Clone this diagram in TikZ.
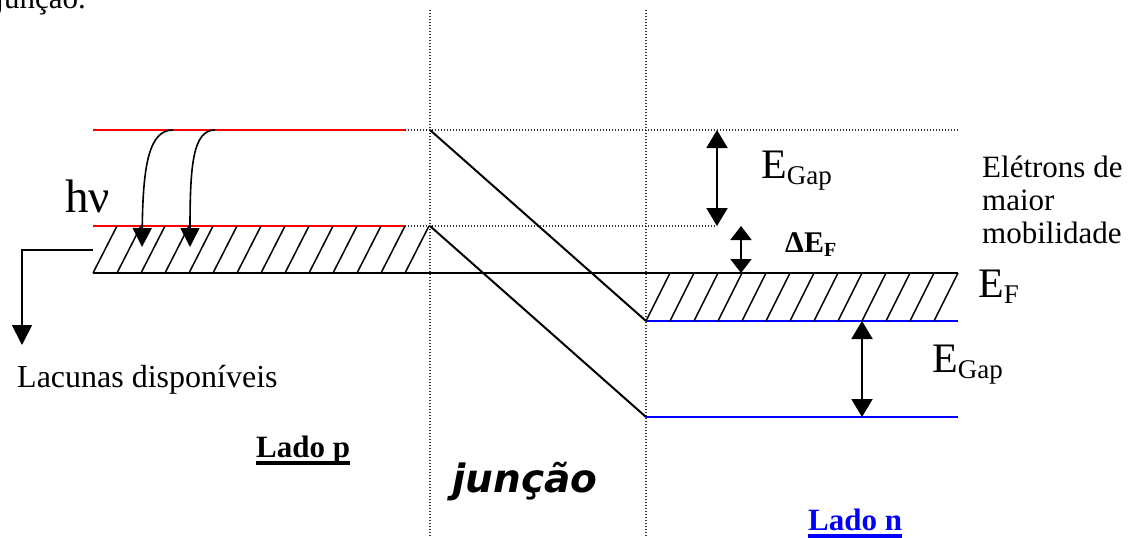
\documentclass[tikz,border=0pt]{standalone}
\usepackage{fontspec}
\setmainfont{Liberation Serif}
\newfontfamily\junfont{DejaVu Sans}
\usetikzlibrary{arrows.meta}

% E with a subscript, as in the band labels
\newcommand{\bigE}[1]{{\fontsize{42}{42}\selectfont E}\raisebox{-6pt}{\fontsize{27}{27}\selectfont #1}}
% bold text with a thick underline
\newcommand{\ulbold}[1]{\setbox0\hbox{\bfseries #1}\rlap{\rule[-7.5pt]{\wd0}{3.2pt}}\box0}

\begin{document}
\begin{tikzpicture}[x=1pt,y=-1pt,
    band/.style={line width=2pt},
    guide/.style={line width=1.3pt, dash pattern=on 1.4pt off 1.6pt, black!80},
    hatch/.style={line width=1.5pt},
    gaparrow/.style={line width=2pt, {Triangle[length=18pt,width=21pt]}-{Triangle[length=18pt,width=21pt]}},
    smallarrow/.style={line width=2pt, {Triangle[length=14pt,width=21pt]}-{Triangle[length=14pt,width=21pt]}},
    downarrow/.style={line width=1.6pt, -{Triangle[length=19pt,width=19pt]}},
    txt/.style={inner sep=0pt, font=\fontsize{31}{33}\selectfont}]
    % Define colours
    \definecolor{pBand}{HTML}{FF0000}
    \definecolor{nBand}{HTML}{0000FF}

    \useasboundingbox (0,0) rectangle (1130,538);

  % Define the band corners
  \coordinate (pTop) at (93,130);
  \coordinate (pTopEnd) at (405,130);
  \coordinate (jTop) at (430,130);
  \coordinate (pMid) at (93,226);
  \coordinate (pMidEnd) at (405,226);
  \coordinate (jMid) at (430,226);
  \coordinate (nTop) at (646,321);
  \coordinate (nTopEnd) at (958,321);
  \coordinate (nBot) at (646,417);
  \coordinate (nBotEnd) at (958,417);
  \coordinate (fermiL) at (93,273);
  \coordinate (fermiR) at (958,273);

  % Draw the junction borders and guide lines
  \draw[guide] (430,10) -- (430,538);
  \draw[guide] (646,10) -- (646,538);
  \coordinate (gTopR) at (958,130);
  \coordinate (gMidR) at (717,226);
  \draw[guide] (pTopEnd) -- (gTopR);
  \draw[guide] (pMidEnd) -- (gMidR);

  % Draw the p side bands
  \draw[band, pBand] (pTop) -- (pTopEnd);
  \draw[band, pBand] (pMid) -- (pMidEnd);
  \foreach \k in {0,...,13}
    \draw[hatch] (93+24*\k,273) -- (117+24*\k,226);

  % Draw the bent bands across the junction
  \draw[band] (jTop) -- (nTop);
  \draw[band] (jMid) -- (nBot);
  \draw[band] (fermiL) -- (fermiR);

  % Draw the n side bands
  \draw[band, nBand] (nTop) -- (nTopEnd);
  \draw[band, nBand] (nBot) -- (nBotEnd);
  \foreach \k in {0,...,12}
    \draw[hatch] (646+24*\k,321) -- (670+24*\k,273);

  % Draw the gap arrows
  \coordinate (gapA1) at (717,130);
  \coordinate (gapA2) at (717,226);
  \coordinate (dfA1) at (741,226);
  \coordinate (dfA2) at (741,273);
  \coordinate (gapB1) at (862,321);
  \coordinate (gapB2) at (862,417);
  \draw[gaparrow] (gapA1) -- (gapA2);
  \draw[smallarrow] (dfA1) -- (dfA2);
  \draw[gaparrow] (gapB1) -- (gapB2);

  % Draw the photon transitions
  \coordinate (hvA) at (173,130);
  \coordinate (hvAend) at (142,247);
  \coordinate (hvB) at (215,130);
  \coordinate (hvBend) at (190,247);
  \draw[downarrow] (hvA) .. controls (149,130) and (143,165) .. (hvAend);
  \draw[downarrow] (hvB) .. controls (193,130) and (190,165) .. (hvBend);

  % Draw the holes arrow
  \coordinate (holeA) at (93,250);
  \coordinate (holeB) at (22,250);
  \coordinate (holeC) at (22,345);
  \draw[downarrow, line width=1.8pt, -{Triangle[length=20pt,width=20pt]}] (holeA) -- (holeB) -- (holeC);

  % Label the bands and regions
  \node[txt, anchor=base east] (topText) at (86,9) {junção.};
  \node[txt, anchor=base west] (hv) at (65,212) {\fontsize{47}{47}\selectfont hν};
  \node[txt, anchor=base west] (gapTop) at (761,178) {\bigE{Gap}};
  \node[txt, anchor=base west] (deltaF) at (785,252) {\bfseries\fontsize{30}{30}\selectfont ΔE\raisebox{-4pt}{\fontsize{20}{20}\selectfont F}};
  \node[txt, anchor=base west, align=left] (electrons) at (982,243) {Elétrons de\\maior\\mobilidade};
  \node[txt, anchor=base west] (fermi) at (978,297) {\bigE{F}};
  \node[txt, anchor=base west] (gapBot) at (932,372) {\bigE{Gap}};
  \node[txt, anchor=base west, font=\fontsize{32}{34}\selectfont] (holes) at (17,387) {Lacunas disponíveis};
  \node[txt, anchor=base west] (sideP) at (256,457) {\ulbold{Lado p}};
  \node[txt, anchor=base west, text=nBand] (sideN) at (808,530) {\ulbold{Lado n}};
  \node[txt, anchor=base west] (junction) at (452,492) {\junfont\bfseries\itshape\fontsize{39}{39}\selectfont junção};

\end{tikzpicture}
\end{document}
